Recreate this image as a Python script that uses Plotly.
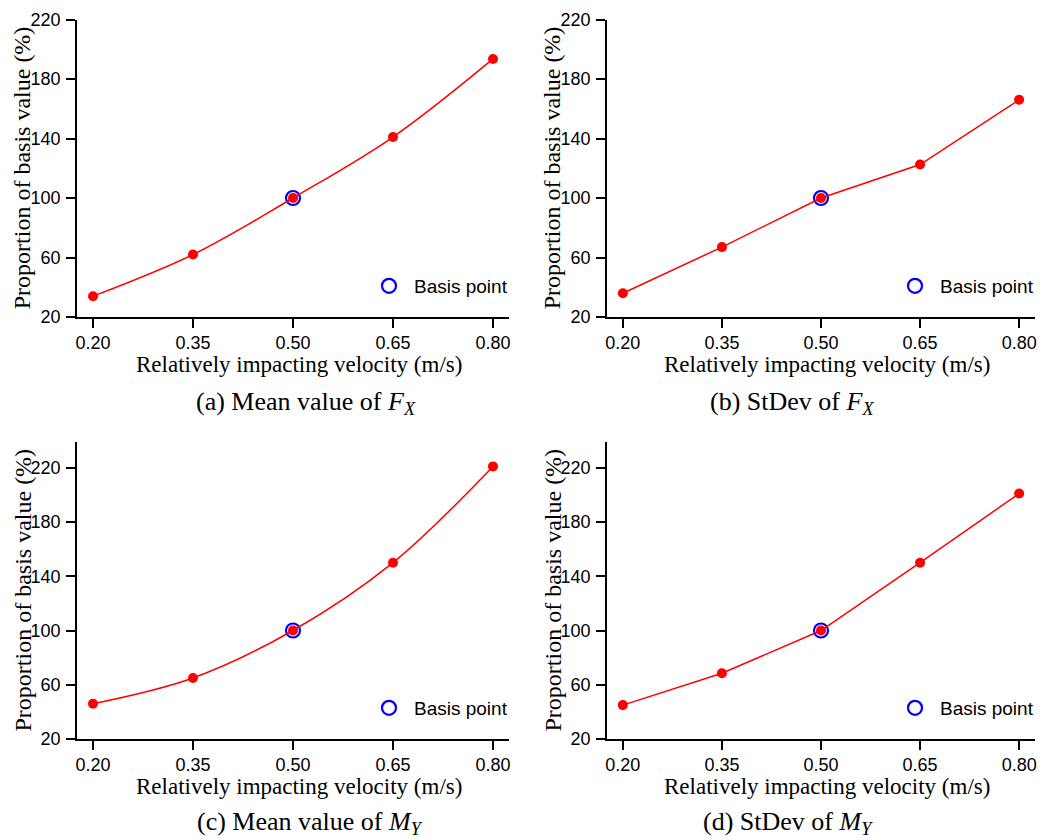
import plotly.graph_objects as go

# Sensitivity of loads to the relative impacting velocity
velocity = [0.20, 0.35, 0.50, 0.65, 0.80]
mean_fx = [34, 62, 100, 141, 193.5]
stdev_fx = [36, 67, 100, 122.5, 166]
mean_my = [46, 65, 100, 150, 221]
stdev_my = [45, 68.5, 100, 150, 201]

basis_x = [0.50]
basis_y = [100]

x_ticks = [0.20, 0.35, 0.50, 0.65, 0.80]
x_ticktext = ["0.20", "0.35", "0.50", "0.65", "0.80"]
y_ticks = [20, 60, 100, 140, 180, 220]

captions = [
    "(a) Mean value of <i>F</i><sub><i>X</i></sub>",
    "(b) StDev of <i>F</i><sub><i>X</i></sub>",
    "(c) Mean value of <i>M</i><sub><i>Y</i></sub>",
    "(d) StDev of <i>M</i><sub><i>Y</i></sub>",
]
x_title = "Relatively impacting velocity (m/s)"
y_title = "Proportion of basis value (%)"
legend_label = "Basis point"

W, H = 1048, 840
SANS = "Liberation Sans, Arial, sans-serif"
SERIF = "Liberation Serif, Times New Roman, serif"


def px_x(p):
    return p / W


def px_y(p):
    return 1 - p / H


# panel boxes in pixels: (left, right, top, bottom)
boxes = [
    (77, 509, 19.5, 317),
    (607, 1035, 19.5, 317),
    (77, 509, 442, 739),
    (607, 1035, 442, 739),
]
y_ranges = [[20, 220], [20, 220], [20, 239], [20, 239]]
shapes_line = ["spline", "linear", "spline", "linear"]
series = [mean_fx, stdev_fx, mean_my, stdev_my]
caption_pos = [(306, 403), (792, 403), (310, 823), (788, 823)]
legend_names = ["legend", "legend2", "legend3", "legend4"]

fig = go.Figure()
layout = dict(
    width=W, height=H,
    margin=dict(l=0, r=0, t=0, b=0, autoexpand=False),
    paper_bgcolor="white", plot_bgcolor="white",
    font=dict(family=SANS, size=18, color="black"),
    annotations=[],
)

for i, (vals, box) in enumerate(zip(series, boxes)):
    n = "" if i == 0 else str(i + 1)
    xa, ya = "x" + n, "y" + n
    left, right, top, bottom = box

    fig.add_trace(go.Scatter(
        x=basis_x, y=basis_y, xaxis=xa, yaxis=ya, mode="markers",
        name=legend_label, legend=legend_names[i], showlegend=True,
        marker=dict(symbol="circle-open", size=14, color="#0000ff",
                    line=dict(width=2.2, color="#0000ff")),
        hoverinfo="skip",
    ))
    fig.add_trace(go.Scatter(
        x=velocity, y=vals, xaxis=xa, yaxis=ya, mode="lines+markers",
        line=dict(color="#ff0000", width=1.5, shape=shapes_line[i], smoothing=1),
        marker=dict(color="#ff0000", size=10),
        showlegend=False,
    ))

    axis_common = dict(
        showline=True, linecolor="black", linewidth=1.5,
        ticks="outside", ticklen=9, tickwidth=1.5, tickcolor="black",
        showgrid=False, zeroline=False,
        tickfont=dict(family=SANS, size=18, color="black"),
    )
    layout["xaxis" + n] = dict(
        axis_common, domain=[px_x(left), px_x(right)], anchor=ya,
        range=[0.176, 0.824], tickvals=x_ticks, ticktext=x_ticktext,
    )
    layout["yaxis" + n] = dict(
        axis_common, domain=[px_y(bottom), px_y(top)], anchor=xa,
        range=y_ranges[i], tickvals=y_ticks, ticklabelstandoff=2,
    )

    # legend in the lower right corner of each panel
    layout[legend_names[i]] = dict(
        x=px_x(right + 4), y=px_y(bottom - 31),
        xanchor="right", yanchor="middle", itemwidth=40,
        bgcolor="rgba(0,0,0,0)", borderwidth=0,
        font=dict(family=SANS, size=19, color="black"),
    )

    # axis titles
    layout["annotations"].append(dict(
        text=x_title, xref="paper", yref="paper",
        x=px_x((left + right) / 2 + 6), y=px_y(bottom + 47),
        xanchor="center", yanchor="middle", showarrow=False,
        font=dict(family=SERIF, size=23, color="black"),
    ))
    layout["annotations"].append(dict(
        text=y_title, xref="paper", yref="paper",
        x=px_x(left - 55), y=px_y((top + bottom) / 2),
        xanchor="center", yanchor="middle", textangle=-90, showarrow=False,
        font=dict(family=SERIF, size=24, color="black"),
    ))
    cx, cy = caption_pos[i]
    layout["annotations"].append(dict(
        text=captions[i], xref="paper", yref="paper",
        x=px_x(cx), y=px_y(cy),
        xanchor="center", yanchor="middle", showarrow=False,
        font=dict(family=SERIF, size=26, color="black"),
    ))

fig.update_layout(**layout)
fig.write_html("out.html")
